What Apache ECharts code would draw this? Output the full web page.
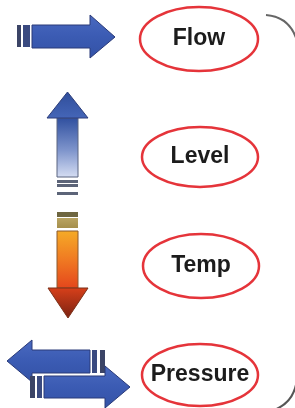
<!DOCTYPE html>
<html><head><meta charset="utf-8">
<script src="https://cdn.jsdelivr.net/npm/echarts@6/dist/echarts.min.js"></script>
<style>html,body{margin:0;padding:0;background:#fff}#c{width:295px;height:408px}</style>
</head><body><div id="c"></div>
<script>
var labels = ['Flow', 'Level', 'Temp', 'Pressure'];
var ellipseCx = [199, 200, 201, 200];
var ellipseCy = [39, 157, 266, 375];
var ellipseRx = [59, 58, 58, 58];
var ellipseRy = [32, 30, 32, 31];

function lg(x, y, x2, y2, stops) {
  return {type: 'linear', x: x, y: y, x2: x2, y2: y2,
    colorStops: stops.map(function (s) { return {offset: s[0], color: s[1]}; })};
}
var blue = lg(0, 0, 0, 1, [[0, '#4a6ac0'], [0.5, '#3b5bb3'], [1, '#3352a6']]);
var navy = '#2a3a78';

var g = [];
// right-side rounded border pieces
g.push({type: 'bezierCurve', shape: {x1: 266, y1: 15, cpx1: 292, cpy1: 17, x2: 298, y2: 45},
  style: {fill: null, stroke: '#666', lineWidth: 2}});
g.push({type: 'bezierCurve', shape: {x1: 297, y1: 378, cpx1: 295, cpy1: 402, x2: 274, y2: 410},
  style: {fill: null, stroke: '#555', lineWidth: 2}});

// Flow arrow
g.push({type: 'rect', shape: {x: 17, y: 25, width: 4, height: 22}, style: {fill: '#3b4466'}});
g.push({type: 'rect', shape: {x: 23, y: 25, width: 7, height: 22}, style: {fill: '#3a4a80'}});
g.push({type: 'polygon', shape: {points: [[32, 25], [90, 25], [90, 15], [115, 37], [90, 58], [90, 48], [32, 48]]},
  style: {fill: blue, stroke: navy, lineWidth: 1}});

// Level arrow (up)
g.push({type: 'rect', shape: {x: 57, y: 118, width: 21, height: 59},
  style: {fill: lg(0, 0, 0, 1, [[0, '#2f4f9f'], [0.55, '#7f95cc'], [1, '#d6def3']]), stroke: '#5a6480', lineWidth: 1}});
g.push({type: 'polygon', shape: {points: [[67.5, 92], [88, 118], [47, 118]]},
  style: {fill: lg(0, 0, 0, 1, [[0, '#2f4d9a'], [1, '#4566b8']]), stroke: '#2c3d7a', lineWidth: 1}});
g.push({type: 'rect', shape: {x: 57, y: 180, width: 21, height: 3}, style: {fill: '#5c6478'}});
g.push({type: 'rect', shape: {x: 57, y: 184, width: 21, height: 3}, style: {fill: '#5c6478'}});
g.push({type: 'rect', shape: {x: 57, y: 192, width: 21, height: 3}, style: {fill: '#5c6478'}});

// Temp arrow (down)
g.push({type: 'rect', shape: {x: 57, y: 212, width: 21, height: 5}, style: {fill: '#6e6640'}});
g.push({type: 'rect', shape: {x: 57, y: 218, width: 21, height: 10},
  style: {fill: lg(0, 0, 0, 1, [[0, '#b9a462'], [1, '#a58f4c']])}});
g.push({type: 'rect', shape: {x: 57, y: 231, width: 21, height: 57},
  style: {fill: lg(0, 0, 0, 1, [[0, '#f5ab27'], [0.5, '#f07a22'], [1, '#e4461c']]), stroke: '#8a5a30', lineWidth: 1}});
g.push({type: 'polygon', shape: {points: [[48, 288], [88, 288], [68, 318]]},
  style: {fill: lg(0, 0, 0, 1, [[0, '#d8401a'], [1, '#7a2212']]), stroke: '#7a3018', lineWidth: 1}});

// Pressure arrows
g.push({type: 'polygon', shape: {points: [[7, 361], [32, 340], [32, 350], [90, 350], [90, 373], [32, 373], [32, 382]]},
  style: {fill: blue, stroke: navy, lineWidth: 1}});
g.push({type: 'rect', shape: {x: 92, y: 350, width: 5, height: 23}, style: {fill: '#3a4a80'}});
g.push({type: 'rect', shape: {x: 100, y: 350, width: 5, height: 23}, style: {fill: '#3b4466'}});
g.push({type: 'rect', shape: {x: 30, y: 376, width: 5, height: 22}, style: {fill: '#3b4466'}});
g.push({type: 'rect', shape: {x: 37, y: 376, width: 5, height: 22}, style: {fill: '#3a4a80'}});
g.push({type: 'polygon', shape: {points: [[44, 376], [105, 376], [105, 366], [130, 387], [105, 408], [105, 398], [44, 398]]},
  style: {fill: blue, stroke: navy, lineWidth: 1}});

// labels in ellipses
labels.forEach(function (t, i) {
  g.push({type: 'ellipse', shape: {cx: ellipseCx[i], cy: ellipseCy[i], rx: ellipseRx[i], ry: ellipseRy[i]},
    style: {fill: '#fff', stroke: '#e5343a', lineWidth: 2.5}});
  g.push({type: 'text', x: ellipseCx[i], y: ellipseCy[i],
    style: {text: t, fill: '#1c1c1c', font: 'bold 23px "Liberation Sans", Arial, sans-serif',
      textAlign: 'center', textVerticalAlign: 'middle'}});
});

var chart = echarts.init(document.getElementById('c'), null, {renderer: 'canvas'});
chart.setOption({animation: false, backgroundColor: '#fff', graphic: {elements: g}});
</script>
</body></html>
